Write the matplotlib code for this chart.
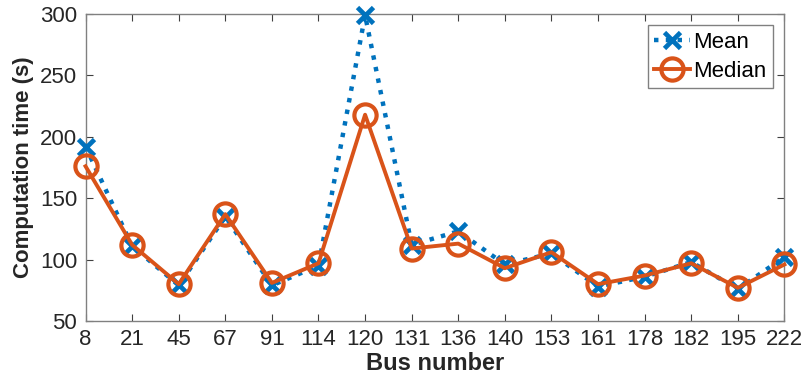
import matplotlib.pyplot as plt

# Data
buses = ["8", "21", "45", "67", "91", "114", "120", "131", "136", "140",
         "153", "161", "178", "182", "195", "222"]
mean_time = [192, 111, 79, 135, 79, 95, 299, 112, 123, 96,
             105, 78, 86, 98, 76, 102]
median_time = [176, 112, 80, 137, 81, 97, 218, 109, 113, 93,
               106, 80, 87, 97, 77, 96]

plt.rcParams["font.family"] = ["Liberation Sans", "DejaVu Sans"]

fig = plt.figure(figsize=(8.07, 3.90), dpi=100)
ax = fig.add_axes([0.106, 0.177, 0.866, 0.787])

x = list(range(len(buses)))
ax.plot(x, mean_time, linestyle=":", color="#0072BD", linewidth=3.2,
        marker="x", markersize=12, markeredgewidth=3.4, label="Mean",
        clip_on=False, zorder=3)
ax.plot(x, median_time, linestyle="-", color="#D95319", linewidth=2.8,
        marker="o", markersize=16, markeredgewidth=3.0,
        markerfacecolor="none", label="Median", clip_on=False, zorder=4)

ax.set_xlim(0, len(buses) - 1)
ax.set_ylim(50, 300)
ax.set_xticks(x)
ax.set_xticklabels(buses, fontsize=16)
ax.set_yticks([50, 100, 150, 200, 250, 300])
ax.set_yticklabels(["50", "100", "150", "200", "250", "300"], fontsize=16)
ax.tick_params(direction="in", top=True, right=True, length=5, color="#404040",
               labelcolor="#262626")
ax.tick_params(axis="x", pad=6)
ax.tick_params(axis="y", pad=6)
for s in ax.spines.values():
    s.set_color("#808080")
    s.set_linewidth(1.0)

ax.set_xlabel("Bus number", fontsize=17, fontweight="bold", color="#262626",
              labelpad=1)
ax.set_ylabel("Computation time (s)", fontsize=16, fontweight="bold", color="#262626",
              labelpad=4)

leg = ax.legend(loc="upper right", fontsize=16, frameon=True, fancybox=False,
                edgecolor="#808080", handlelength=1.6, borderpad=0.3,
                labelspacing=0.35, handletextpad=0.15, borderaxespad=0.5,
                framealpha=1)
leg.get_frame().set_linewidth(1.0)

fig.savefig("out.png", dpi=100)
